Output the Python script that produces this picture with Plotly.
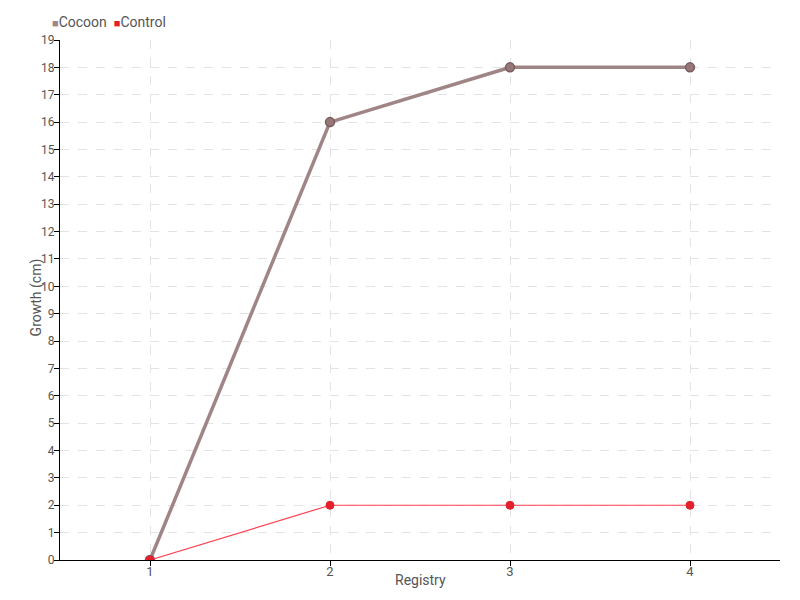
import plotly.graph_objects as go

registry = [1, 2, 3, 4]
cocoon = [0, 16, 18, 18]
control = [0, 2, 2, 2]
y_ticks = list(range(0, 20))
series_names = ["Cocoon", "Control"]

FONT = "Roboto"
COCOON_C = "#a08587"
COCOON_M = "#967878"
CONTROL_C = "#ff4050"
CONTROL_M = "#e3202c"
TXT = "#555555"

# page body has an 8px margin, so the figure is sized to fit inside the window
W, H = 784, 584
L, R, T, B = 52, 12, 32, 32
PW, PH = W - L - R, H - T - B

fig = go.Figure()
fig.add_trace(go.Scatter(x=registry, y=cocoon, mode="lines+markers", name=series_names[0],
                         line=dict(color=COCOON_C, width=3.5),
                         marker=dict(size=9, color=COCOON_M, line=dict(color="#7a5c5e", width=1.5))))
fig.add_trace(go.Scatter(x=registry, y=control, mode="lines+markers", name=series_names[1],
                         line=dict(color=CONTROL_C, width=1.2),
                         marker=dict(size=8, color=CONTROL_M, line=dict(color=CONTROL_M, width=1))))

legend_text = (
    f"<span style='font-size:11px;color:{COCOON_C}'>■</span>{series_names[0]}"
    f"&nbsp;&nbsp;<span style='font-size:11px;color:{CONTROL_M}'>■</span>{series_names[1]}"
)

fig.update_layout(
    width=W, height=H,
    paper_bgcolor="white", plot_bgcolor="white",
    margin=dict(l=L, r=R, t=T, b=B, autoexpand=False),
    font=dict(family=FONT, size=13, color=TXT),
    showlegend=False,
    annotations=[
        dict(text=legend_text, xref="paper", yref="paper", x=-10 / PW, y=1 + 18 / PH,
             xanchor="left", yanchor="middle", showarrow=False,
             font=dict(size=14, color=TXT)),
        dict(text="Registry", xref="paper", yref="paper", x=0.5, y=-20 / PH,
             xanchor="center", yanchor="middle", showarrow=False,
             font=dict(size=14, color=TXT)),
        dict(text="Growth (cm)", xref="paper", yref="paper", x=-24 / PW, y=0.505,
             xanchor="center", yanchor="middle", showarrow=False, textangle=-90,
             font=dict(size=14, color=TXT)),
    ],
)
fig.update_xaxes(range=[0.5, 4.5], tickmode="array", tickvals=registry,
                 ticktext=[str(v) for v in registry],
                 showline=True, linecolor="black", linewidth=1,
                 ticks="outside", ticklen=5, tickcolor="black",
                 ticklabelstandoff=-6,
                 showgrid=True, gridcolor="#e3e3e3", griddash="dash", gridwidth=1,
                 zeroline=False, automargin=False)
fig.update_yaxes(range=[0, 19], tickmode="array", tickvals=y_ticks,
                 showline=True, linecolor="black", linewidth=1,
                 ticks="outside", ticklen=5, tickcolor="black",
                 ticklabelstandoff=-3, tickfont=dict(size=12),
                 showgrid=True, gridcolor="#e3e3e3", griddash="dash", gridwidth=1,
                 zeroline=False, automargin=False)

fig.write_html("out.html")
